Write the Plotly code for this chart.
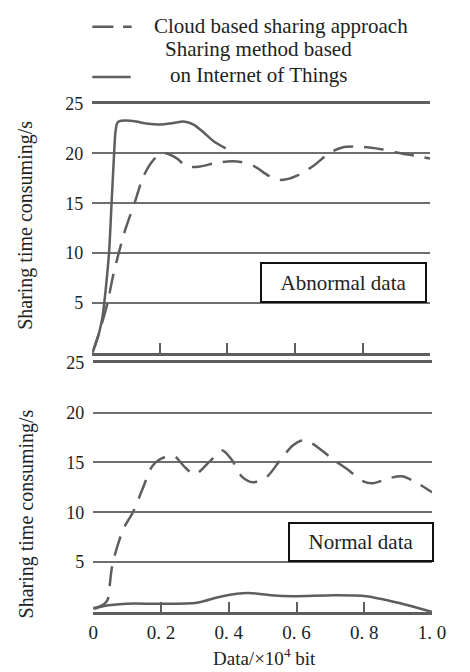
import plotly.graph_objects as go

# ---- data ----
top_iot_x = [0, 0.01, 0.02, 0.03, 0.04, 0.05, 0.057, 0.063, 0.068, 0.073, 0.08, 0.1, 0.13, 0.16, 0.2, 0.24, 0.27, 0.3, 0.33, 0.36, 0.395]
top_iot_y = [0, 0.9, 2.0, 3.6, 6.5, 10.3, 15.0, 19.0, 22.0, 23.0, 23.25, 23.3, 23.2, 23.0, 22.9, 23.05, 23.2, 22.9, 22.1, 21.2, 20.5]

top_cloud_x = [0, 0.02, 0.045, 0.06, 0.078, 0.1, 0.125, 0.15, 0.175, 0.2, 0.22, 0.25, 0.28, 0.32, 0.36, 0.4, 0.44, 0.48, 0.52, 0.55, 0.58, 0.62, 0.66, 0.7, 0.74, 0.78, 0.82, 0.86, 0.9, 0.95, 1.0]
top_cloud_y = [0, 2.0, 5.0, 7.5, 10.0, 12.6, 15.0, 17.6, 19.1, 19.9, 20.0, 19.5, 18.7, 18.7, 19.0, 19.2, 19.15, 18.7, 17.8, 17.35, 17.45, 18.0, 18.9, 20.0, 20.6, 20.7, 20.6, 20.4, 20.1, 19.8, 19.5]

low_cloud_x = [0, 0.015, 0.032, 0.042, 0.048, 0.053, 0.058, 0.075, 0.09, 0.117, 0.145, 0.174, 0.202, 0.24, 0.268, 0.3, 0.344, 0.381, 0.41, 0.438, 0.471, 0.514, 0.551, 0.589, 0.618, 0.646, 0.712, 0.75, 0.797, 0.825, 0.872, 0.91, 0.948, 1.0]
low_cloud_y = [0.4, 0.5, 0.8, 1.2, 2.5, 4.0, 5.0, 7.0, 8.4, 10.0, 12.3, 14.6, 15.4, 15.6, 14.6, 13.8, 15.1, 16.2, 15.2, 13.6, 13.0, 13.6, 15.2, 16.7, 17.2, 16.9, 15.2, 14.3, 13.1, 12.9, 13.4, 13.6, 13.1, 12.0]

low_iot_x = [0, 0.032, 0.098, 0.193, 0.306, 0.381, 0.457, 0.523, 0.589, 0.712, 0.806, 0.9, 1.0]
low_iot_y = [0.3, 0.6, 0.82, 0.82, 0.92, 1.58, 1.9, 1.68, 1.58, 1.68, 1.58, 0.92, 0.0]

y_tickvals = [5, 10, 15, 20, 25]
x_tickvals = [0, 0.2, 0.4, 0.6, 0.8, 1.0]
x_ticktext = ["0", "0. 2", "0. 4", "0. 6", "0. 8", "1. 0"]

legend_cloud = "Cloud based sharing approach"
legend_iot_1 = "Sharing method based"
legend_iot_2 = "on Internet of Things"
y_title = "Sharing time consuming/s"
x_title = "Data/×10<sup>4</sup> bit"
box_top = "Abnormal data"
box_low = "Normal data"

W, H = 470, 672
LINE = "#5e5e5e"
GRID = "#6e6e6e"
FONT = "Liberation Serif"

def px_x(p):
    return p / W

def px_y(p):
    return 1 - p / H

fig = go.Figure()

dash = "20px,11px"
fig.add_trace(go.Scatter(x=top_cloud_x, y=top_cloud_y, mode="lines", xaxis="x", yaxis="y",
                         line=dict(color=LINE, width=2.5, dash=dash, shape="spline", smoothing=0.8),
                         name=legend_cloud, showlegend=False))
fig.add_trace(go.Scatter(x=top_iot_x, y=top_iot_y, mode="lines", xaxis="x", yaxis="y",
                         line=dict(color=LINE, width=2.5, shape="spline", smoothing=0.6),
                         name=legend_iot_1 + " " + legend_iot_2, showlegend=False))
fig.add_trace(go.Scatter(x=low_cloud_x, y=low_cloud_y, mode="lines", xaxis="x2", yaxis="y2",
                         line=dict(color=LINE, width=2.5, dash=dash, shape="spline", smoothing=0.8),
                         name=legend_cloud, showlegend=False))
fig.add_trace(go.Scatter(x=low_iot_x, y=low_iot_y, mode="lines", xaxis="x2", yaxis="y2",
                         line=dict(color=LINE, width=2.5, shape="spline", smoothing=0.8),
                         name=legend_iot_1 + " " + legend_iot_2, showlegend=False))

tickfont_y = dict(family=FONT, size=18, color="#222222")
tickfont_x = dict(family=FONT, size=19, color="#222222")

common_x = dict(range=[0, 1], showgrid=False, zeroline=False, showline=True, linewidth=3,
                linecolor=LINE, mirror=True, ticks="inside", ticklen=10, tickwidth=2,
                tickcolor=LINE, tickvals=x_tickvals, ticktext=x_ticktext, fixedrange=True)
common_y = dict(range=[0, 25], showgrid=True, gridcolor=GRID, gridwidth=2, zeroline=False,
                showline=False, tickvals=y_tickvals, ticks="", tickfont=tickfont_y,
                ticklabelstandoff=8, fixedrange=True)

fig.update_layout(
    width=W, height=H,
    margin=dict(l=0, r=0, t=0, b=0),
    paper_bgcolor="white", plot_bgcolor="white",
    showlegend=False,
    xaxis=dict(common_x, domain=[px_x(91), px_x(443)], anchor="y", showticklabels=False),
    yaxis=dict(common_y, domain=[px_y(348), px_y(95)], anchor="x"),
    xaxis2=dict(common_x, domain=[px_x(92), px_x(445)], anchor="y2", showticklabels=True,
                tickfont=tickfont_x, ticklabelstandoff=1),
    yaxis2=dict(common_y, domain=[px_y(611), px_y(358)], anchor="x2"),
)

ann_font = dict(family=FONT, size=20, color="#222222")
big_font = dict(family=FONT, size=21, color="#222222")
annotations = [
    dict(text=y_title, x=px_x(22), y=px_y(219), xref="paper", yref="paper", textangle=-90,
         showarrow=False, font=ann_font, xanchor="center", yanchor="middle"),
    dict(text=y_title, x=px_x(22), y=px_y(512), xref="paper", yref="paper", textangle=-90,
         showarrow=False, font=ann_font, xanchor="center", yanchor="middle"),
    dict(text=x_title, x=px_x(270), y=px_y(657), xref="paper", yref="paper", showarrow=False,
         font=dict(family=FONT, size=19, color="#222222"), xanchor="center", yanchor="middle"),
    dict(text=box_top, x=px_x(352.5), y=px_y(276.5), xref="paper", yref="paper", showarrow=False,
         font=big_font, width=163, height=37, borderpad=0, bordercolor="#111111", borderwidth=2,
         bgcolor="white", xanchor="center", yanchor="middle"),
    dict(text=box_low, x=px_x(371), y=px_y(540), xref="paper", yref="paper", showarrow=False,
         font=big_font, width=142, height=36, borderpad=0, bordercolor="#111111", borderwidth=2,
         bgcolor="white", xanchor="center", yanchor="middle"),
    dict(text=legend_cloud, x=px_x(288), y=px_y(16), xref="paper", yref="paper", showarrow=False,
         font=big_font, xanchor="center", yanchor="middle"),
    dict(text=legend_iot_1, x=px_x(264), y=px_y(40), xref="paper", yref="paper", showarrow=False,
         font=big_font, xanchor="center", yanchor="middle"),
    dict(text=legend_iot_2, x=px_x(265), y=px_y(66), xref="paper", yref="paper", showarrow=False,
         font=big_font, xanchor="center", yanchor="middle"),
]
fig.update_layout(annotations=annotations)

# legend samples
shapes = [
    dict(type="line", xref="paper", yref="paper", x0=px_x(91), x1=px_x(113), y0=px_y(17), y1=px_y(17),
         line=dict(color=LINE, width=2.5)),
    dict(type="line", xref="paper", yref="paper", x0=px_x(123), x1=px_x(132), y0=px_y(17), y1=px_y(17),
         line=dict(color=LINE, width=2.5)),
    dict(type="line", xref="paper", yref="paper", x0=px_x(91), x1=px_x(131), y0=px_y(68), y1=px_y(68),
         line=dict(color=LINE, width=2.5)),
]
fig.update_layout(shapes=shapes)

fig.write_html("out.html", config={"displayModeBar": False},
               post_script="document.body.style.margin='0';document.body.style.overflow='hidden';")
